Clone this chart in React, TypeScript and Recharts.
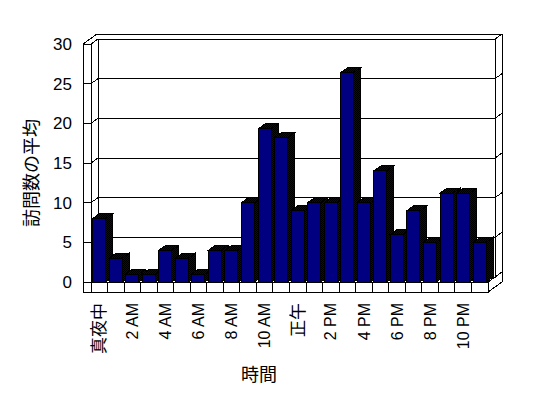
import React from 'react';
import { BarChart, Bar, XAxis, YAxis, CartesianGrid, Customized } from 'recharts';

const hours = [
  '真夜中', '1 AM', '2 AM', '3 AM', '4 AM', '5 AM', '6 AM', '7 AM', '8 AM', '9 AM', '10 AM', '11 AM',
  '正午', '1 PM', '2 PM', '3 PM', '4 PM', '5 PM', '6 PM', '7 PM', '8 PM', '9 PM', '10 PM', '11 PM',
];
const visits = [8, 3, 1, 1, 4, 3, 1, 4, 4, 10, 19.3, 18.2, 9, 10, 10, 26.4, 10, 14, 6, 9, 5, 11.2, 11.2, 5];
const yTicks = [0, 5, 10, 15, 20, 25, 30];
const yTitle = '訪問数の平均';
const xTitle = '時間';

const data = hours.map((h, i) => ({ hour: h, visits: visits[i] }));

const W = 548;
const H = 398;
const PL = 91;
const PR = 488;
const PT = 44;
const PB = 282;
const WALL = 8;
const FLOOR = 10;
const DX = 7;
const DY = -5;
const FRONT = '#000080';
const LATIN = '"Liberation Sans", Arial, sans-serif';
const CJK = '"Noto Sans CJK JP", "Liberation Sans", sans-serif';

const isCJK = (s: string) => /[\u3000-\u9fff]/.test(s);

function Walls() {
  const L0 = PL - WALL;
  const FB = PB + FLOOR;
  return (
    <g>
      <g shapeRendering="crispEdges" fill="none" stroke="#000" strokeWidth={1}>
        <polygon
          points={`${L0},${PT} ${L0 + 2 * DX},${PT + 2 * DY} ${PR + 2 * DX},${PT + 2 * DY} ${PR + 2 * DX},${FB + 2 * DY} ${PR},${FB} ${L0},${FB}`}
        />
        <rect x={PL + DX} y={PT + DY} width={PR - PL} height={PB - PT} />
        <line x1={PL} y1={PT} x2={PL + DX} y2={PT + DY} />
        <line x1={PR + DX} y1={PT + DY} x2={PR + 2 * DX} y2={PT + 2 * DY} />
        <line x1={PR} y1={PB} x2={PR + DX} y2={PB + DY} />
        <line x1={PL} y1={PB} x2={PL + DX} y2={PB + DY} />
        <rect x={L0} y={PT} width={WALL} height={FB - PT} />
        <rect x={PL} y={PB} width={PR - PL} height={FLOOR} />
      </g>
      <text
        transform={`translate(32,173) rotate(-90)`}
        textAnchor="middle"
        dy="0.35em"
        fontSize={18}
        fontFamily={CJK}
        fill="#000"
      >
        {yTitle}
      </text>
      <text x={259} y={375} textAnchor="middle" dy="0.35em" fontSize={18} fontFamily={CJK} fill="#000">
        {xTitle}
      </text>
    </g>
  );
}

const gridLine = (p: any) => {
  const { x1, x2, y1 } = p;
  const L0 = PL - WALL;
  return (
    <g key={p.key ?? `grid-${p.index}`} stroke="#000" strokeWidth={1} shapeRendering="crispEdges" fill="none">
      <line x1={L0} y1={y1} x2={x1} y2={y1} />
      <line x1={x1} y1={y1} x2={x1 + DX} y2={y1 + DY} />
      <line x1={x1 + DX} y1={y1 + DY} x2={x2 + DX} y2={y1 + DY} />
      <line x1={x2 + DX} y1={y1 + DY} x2={x2 + 2 * DX} y2={y1 + 2 * DY} />
    </g>
  );
};

const Bar3D = (props: any) => {
  const { x, y, width, height, index } = props;
  if (x == null || y == null || !width) return null;
  return (
    <g>
      {index === 0 && (
        <defs>
          <pattern id="dither" width={2} height={2} patternUnits="userSpaceOnUse">
            <rect x={0} y={0} width={2} height={2} fill={FRONT} stroke="none" />
            <rect x={0} y={0} width={1} height={1} fill="#000" stroke="none" />
            <rect x={1} y={1} width={1} height={1} fill="#000" stroke="none" />
          </pattern>
        </defs>
      )}
      <g stroke="#000" strokeWidth={1} shapeRendering="crispEdges">
        <polygon
          points={`${x + width},${y} ${x + width + DX},${y + DY} ${x + width + DX},${y + height + DY} ${x + width},${y + height}`}
          fill="url(#dither)"
        />
        <polygon
          points={`${x},${y} ${x + DX},${y + DY} ${x + width + DX},${y + DY} ${x + width},${y}`}
          fill="url(#dither)"
        />
        <rect x={x} y={y} width={width} height={height} fill={FRONT} />
      </g>
    </g>
  );
};

const YTick = (p: any) => (
  <text
    x={PL - WALL - 11}
    y={p.y}
    dy="0.35em"
    textAnchor="end"
    fontSize={17}
    fontFamily={LATIN}
    fill="#000"
  >
    {p.payload.value}
  </text>
);

const XTick = (p: any) => {
  const { x, payload } = p;
  const i = payload.index ?? p.index ?? 0;
  const half = (PR - PL) / hours.length / 2;
  const label = String(payload.value);
  const cjk = isCJK(label);
  return (
    <g>
      {i > 0 && (
        <line
          x1={x - half}
          x2={x - half}
          y1={PB}
          y2={PB + FLOOR}
          stroke="#000"
          strokeWidth={1}
          shapeRendering="crispEdges"
        />
      )}
      {i % 2 === 0 && (
        <text
          transform={`translate(${x},${PB + 21}) rotate(-90)`}
          textAnchor="end"
          dy="0.35em"
          fontSize={cjk ? 17 : 16}
          fontFamily={cjk ? CJK : LATIN}
          fill="#000"
          style={{ fill: '#000' }}
        >
          {label}
        </text>
      )}
    </g>
  );
};

export default function App() {
  return (
    <div style={{ position: 'absolute', left: 0, top: 0, width: W, height: H, background: '#fff' }}>
      <BarChart
        width={W}
        height={H}
        data={data}
        margin={{ top: PT, right: W - PR, bottom: 0, left: 0 }}
        barCategoryGap="10%"
      >
        <Customized component={<Walls />} />
        <CartesianGrid vertical={false} horizontal={gridLine} />
        <YAxis
          type="number"
          domain={[0, 30]}
          ticks={yTicks}
          width={PL}
          axisLine={false}
          tickLine={false}
          tick={YTick}
          interval={0}
        />
        <XAxis
          dataKey="hour"
          height={H - PB}
          interval={0}
          axisLine={false}
          tickLine={false}
          tick={XTick}
        />
        <Bar dataKey="visits" shape={Bar3D} isAnimationActive={false} />
      </BarChart>
    </div>
  );
}
